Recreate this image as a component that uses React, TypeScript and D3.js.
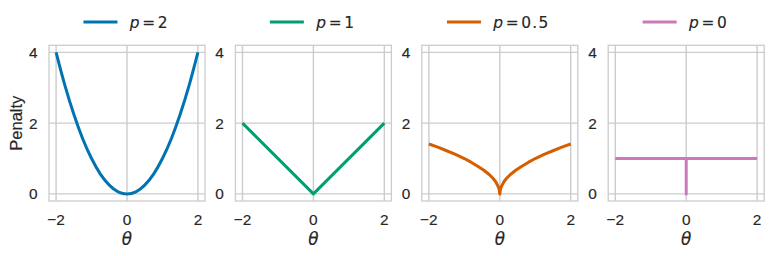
import * as d3 from "d3";
import React, { useEffect, useRef } from "react";

// 各パネルの値
const pLabels = ["2", "1", "0.5", "0"];
const colors = ["#0173b2", "#029e73", "#d55e00", "#cc78bc"];

const thetaP2 = [-2, -1.75, -1.5, -1.25, -1, -0.75, -0.5, -0.25, 0, 0.25, 0.5, 0.75, 1, 1.25, 1.5, 1.75, 2];
const penaltyP2 = [4, 3.06, 2.25, 1.56, 1, 0.56, 0.25, 0.06, 0, 0.06, 0.25, 0.56, 1, 1.56, 2.25, 3.06, 4];

const thetaP1 = [-2, 0, 2];
const penaltyP1 = [2, 0, 2];

const thetaP05 = [-2, -1.75, -1.5, -1.25, -1, -0.8, -0.6, -0.45, -0.3, -0.2, -0.12, -0.06, -0.02, 0,
  0.02, 0.06, 0.12, 0.2, 0.3, 0.45, 0.6, 0.8, 1, 1.25, 1.5, 1.75, 2];
const penaltyP05 = [1.41, 1.32, 1.22, 1.12, 1, 0.89, 0.77, 0.67, 0.55, 0.45, 0.35, 0.24, 0.14, 0,
  0.14, 0.24, 0.35, 0.45, 0.55, 0.67, 0.77, 0.89, 1, 1.12, 1.22, 1.32, 1.41];

const thetaP0 = [-2, 0, 0, 0, 2];
const penaltyP0 = [1, 1, 0, 1, 1];

const seriesTheta = [thetaP2, thetaP1, thetaP05, thetaP0];
const seriesPenalty = [penaltyP2, penaltyP1, penaltyP05, penaltyP0];

const xTicks = [-2, 0, 2];
const yTicks = [0, 2, 4];

export default function App() {
  const ref = useRef<SVGSVGElement>(null);

  useEffect(() => {
    const svg = d3.select(ref.current);
    svg.selectAll("*").remove();

    const W = 156;
    const top = 45.3;
    const bottom = 201;
    const grey = "#cccccc";
    const textColor = "#262626";
    const font = "'Liberation Sans', Arial, sans-serif";
    const mathFont = "'DejaVu Sans', sans-serif";
    const halo = 0.15;

    const y = d3.scaleLinear().domain([-0.2, 4.2]).range([bottom, top]);

    pLabels.forEach((p, i) => {
      const left = 49 + i * 186.4;
      const x = d3.scaleLinear().domain([-2.2, 2.2]).range([left, left + W]);
      const g = svg.append("g");

      // グリッド
      g.selectAll(".gx")
        .data(xTicks)
        .join("line")
        .attr("x1", (d) => x(d))
        .attr("x2", (d) => x(d))
        .attr("y1", top)
        .attr("y2", bottom)
        .attr("stroke", grey)
        .attr("stroke-width", 1.4);
      g.selectAll(".gy")
        .data(yTicks)
        .join("line")
        .attr("x1", left)
        .attr("x2", left + W)
        .attr("y1", (d) => y(d))
        .attr("y2", (d) => y(d))
        .attr("stroke", grey)
        .attr("stroke-width", 1.4);

      // 枠
      g.append("rect")
        .attr("x", left)
        .attr("y", top)
        .attr("width", W)
        .attr("height", bottom - top)
        .attr("fill", "none")
        .attr("stroke", grey)
        .attr("stroke-width", 1.3);

      // 線
      const line = d3
        .line<number>()
        .x((d) => x(d))
        .y((_, k) => y(seriesPenalty[i][k]))
        .curve(i === 0 ? d3.curveMonotoneX : d3.curveLinear);
      g.append("path")
        .attr("d", line(seriesTheta[i]))
        .attr("fill", "none")
        .attr("stroke", colors[i])
        .attr("stroke-width", 3)
        .attr("stroke-linejoin", "round");

      // x目盛りラベル
      g.selectAll(".tx")
        .data(xTicks)
        .join("text")
        .attr("x", (d) => x(d))
        .attr("y", 225)
        .attr("text-anchor", "middle")
        .attr("font-family", font)
        .attr("font-size", 15.4)
        .attr("fill", textColor)
        .attr("stroke", textColor)
        .attr("stroke-width", halo)
        .text((d) => (d < 0 ? "\u2212" + Math.abs(d) : String(d)));

      // y目盛りラベル
      g.selectAll(".ty")
        .data(yTicks)
        .join("text")
        .attr("x", left - 11.5)
        .attr("y", (d) => y(d))
        .attr("dy", "0.36em")
        .attr("text-anchor", "end")
        .attr("font-family", font)
        .attr("font-size", 15.4)
        .attr("fill", textColor)
        .attr("stroke", textColor)
        .attr("stroke-width", halo)
        .text((d) => String(d));

      // θ
      g.append("text")
        .attr("x", left + W / 2)
        .attr("y", 244.5)
        .attr("text-anchor", "middle")
        .attr("font-family", mathFont)
        .attr("font-style", "italic")
        .attr("font-size", 16.8)
        .attr("fill", textColor)
        .attr("stroke", textColor)
        .attr("stroke-width", halo)
        .text("θ");

      // 凡例
      const lg = g.append("g");
      lg.append("line")
        .attr("x1", 0)
        .attr("x2", 34)
        .attr("y1", 22)
        .attr("y2", 22)
        .attr("stroke", colors[i])
        .attr("stroke-width", 3);
      const t = lg
        .append("text")
        .attr("x", 46.4)
        .attr("y", 27.6)
        .attr("font-family", mathFont)
        .attr("font-size", 15.4)
        .attr("fill", textColor)
        .attr("stroke", textColor)
        .attr("stroke-width", halo);
      t.append("tspan").attr("font-style", "italic").text("p");
      t.append("tspan").attr("dx", 2.6).text("=");
      t.append("tspan")
        .attr("dx", 2.6)
        .attr("letter-spacing", p.length > 1 ? 1.3 : 0)
        .text(p);
      const tw = (t.node() as SVGTextElement).getComputedTextLength() + 5.2;
      const total = 46.4 + tw;
      lg.attr("transform", `translate(${left + W / 2 - total / 2 - 1.5},0)`);
    });

    // Penalty
    svg
      .append("text")
      .attr("transform", `translate(21.5, ${(top + bottom) / 2}) rotate(-90)`)
      .attr("text-anchor", "middle")
      .attr("font-family", "'Liberation Sans', Arial, sans-serif")
      .attr("font-size", 16.5)
      .attr("fill", "#262626")
      .attr("stroke", "#262626")
      .attr("stroke-width", halo)
      .text("Penalty");
  }, []);

  return (
    <svg
      ref={ref}
      width={770}
      height={256}
      style={{ position: "absolute", left: 0, top: 0, background: "#fff" }}
    />
  );
}
